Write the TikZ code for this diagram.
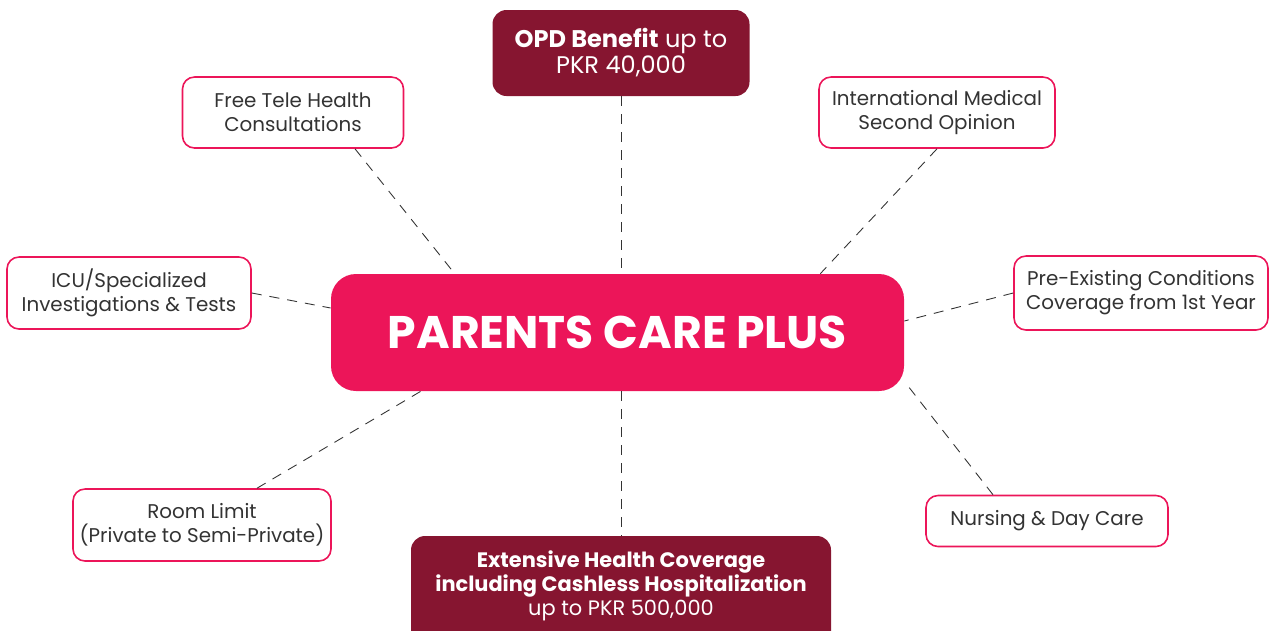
\documentclass[tikz,border=0pt]{standalone}
\usepackage{fontspec}
\setmainfont{Poppins}
\usetikzlibrary{calc}
\definecolor{wine}{HTML}{861530}
\definecolor{rose}{HTML}{EC1559}
\definecolor{ink}{HTML}{333333}
\tikzset{
  hubbox/.style={fill=rose, rounded corners=0.5cm, text=white, font=\bfseries\fontsize{26}{30}\selectfont},
  darkbox/.style={fill=wine, rounded corners=0.28cm, text=white, align=center},
  lightbox/.style={draw=rose, line width=0.9pt, fill=white, rounded corners=0.24cm, text=ink, align=center, inner xsep=2pt, font=\fontsize{11.3}{13.6}\selectfont},
  link/.style={black!80, line width=0.5pt, dash pattern=on 0.2cm off 0.16cm}
}
\newcommand{\feature}[5]{\node[lightbox, minimum width=#3cm, minimum height=#4cm] (#5) at (#1,#2)}
\begin{document}
\begin{tikzpicture}
        \useasboundingbox (0,0) rectangle (25.42,-12.6);
        % centre
        \node[hubbox, minimum width=11.46cm, minimum height=2.34cm] (hub) at (12.35,-6.65) {PARENTS CARE PLUS};
        % top and bottom
        \node[darkbox, minimum width=5.14cm, minimum height=1.72cm, font=\fontsize{13.7}{14.8}\selectfont] (opd) at (12.42,-1.06) {\textbf{OPD Benefit} up to\\PKR 40,000};
        \node[darkbox, minimum width=8.4cm, minimum height=2.2cm, font=\fontsize{11.9}{13.9}\selectfont] (ext) at (12.42,-11.82) {\textbf{Extensive Health Coverage}\\\textbf{including Cashless Hospitalization}\\up to PKR 500,000\\[-5pt]};
        % sides
        \feature{5.86}{-2.25}{4.42}{1.42}{tele} {Free Tele Health\\Consultations};
        \feature{18.74}{-2.25}{4.72}{1.42}{intl} {International Medical\\Second Opinion};
        \feature{2.58}{-5.86}{4.88}{1.44}{icu} {ICU/Specialized\\Investigations \& Tests};
        \feature{22.82}{-5.86}{5.08}{1.48}{pre} {Pre-Existing Conditions\\Coverage from 1st Year};
        \feature{4.04}{-10.5}{5.16}{1.44}{room} {Room Limit\\(Private to Semi-Private)};
        \feature{20.94}{-10.42}{4.84}{1.02}{nurse} {Nursing \& Day Care};
        % links
        \draw[link] (opd.south) -- (opd.south |- hub.north);
        \draw[link] (ext.north |- hub.south) -- (ext.north);
        \draw[link] ([xshift=1.24cm]tele.south) -- ([xshift=2.48cm]hub.north west);
        \draw[link] (intl.south) -- ([xshift=-1.68cm]hub.north east);
        \draw[link] (icu.east) -- ([yshift=0.49cm]hub.west);
        \draw[link] (pre.west) -- ([yshift=0.23cm]hub.east);
        \draw[link] ([xshift=1.1cm]room.north) -- ([xshift=1.8cm]hub.south west);
        \draw[link] ([xshift=-1.08cm]nurse.north) -- ([yshift=0.2cm]hub.south east);
    \end{tikzpicture}
\end{document}
